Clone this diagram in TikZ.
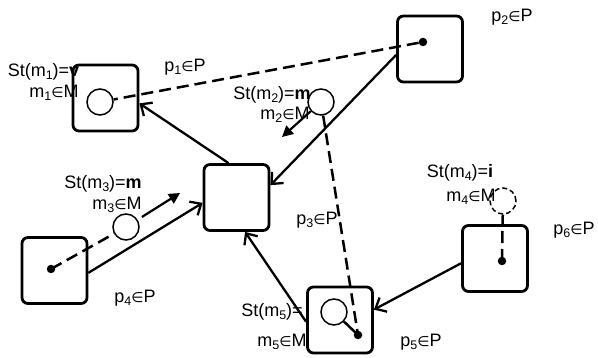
\documentclass[tikz,border=0pt]{standalone}
\usepackage{fontspec}
\setmainfont{Liberation Sans}
\newfontfamily\symf{DejaVu Sans}
\usetikzlibrary{arrows.meta}
\newcommand\sbs[1]{\raisebox{-0.35ex}{\fontsize{12.5}{12.5}\selectfont #1}}
\newcommand\inn{{\symf\fontsize{14}{14}\selectfont ∈}}
\begin{document}
\begin{tikzpicture}[x=1pt,y=-1pt,
  place/.style={draw, line width=2.8pt, rounded corners=6pt, minimum width=65pt, minimum height=66pt, inner sep=0pt},
  token/.style={draw, circle, line width=1.5pt, minimum size=26pt, inner sep=0pt},
  dot/.style={circle, fill=black, minimum size=8.5pt, inner sep=0pt},
  flow/.style={line width=2.3pt, -{Straight Barb[length=9pt,width=16pt]}},
  link/.style={line width=2.5pt, dash pattern=on 12pt off 6pt},
  move/.style={line width=2.2pt, -{Triangle[length=11pt,width=11pt]}},
  lbl/.style={font=\fontsize{18}{21}\selectfont, inner sep=0pt}]
\useasboundingbox (0,0) rectangle (598,358);

% places
\node[place] (P1) at (105.5,98) {};
\node[place] (P2) at (430,49) {};
\node[place] (C) at (236.5,197.5) {};
\node[place] (P4) at (54.5,270.5) {};
\node[place] (P5) at (340,320) {};
\node[place] (P6) at (495,258.5) {};

% tokens
\node[token] (m1) at (100,102) {};
\node[token] (m2) at (321,102) {};
\node[token] (m3) at (126,227) {};
\node[token, dash pattern=on 5pt off 3pt] (m4) at (503,201) {};
\node[token] (m5) at (334,312) {};

% dots
\node[dot] (d2) at (423,42) {};
\node[dot] (d4) at (51,269) {};
\node[dot] (d5) at (358,335) {};
\node[dot] (d6) at (502,261) {};

% links
\draw[link] (d2) -- (m1);
\draw[link] (m2) -- (d5.center);
\draw[link] (d4.center) -- (m3);
\draw[link] (d6.center) -- (m4);
\draw[line width=2.5pt] (m5) -- (d5.center);

% flows
\draw[flow] (P2.190) -- (C.20);
\draw[flow] (C.103) -- (P1.351);
\draw[flow] (P4.356) -- (C.189);
\draw[flow] (P5.183) -- (C.284);
\draw[flow] (P6.188) -- (P5.17);

% moves
\coordinate (a2) at (282,137);
\coordinate (a3) at (180,193);
\draw[move] (m2) -- (a2);
\draw[move, shorten <=5pt] (m3) -- (a3);

% labels
\node[lbl] (s1) at (43.5,72) {St(m\sbs{1})=\textbf{v}};
\node[lbl] (i1) at (54,93) {m\sbs{1}\inn M};
\node[lbl] (l1) at (185,67) {p\sbs{1}\inn P};
\node[lbl] (l2) at (512,17) {p\sbs{2}\inn P};
\node[lbl] (s2) at (272,95) {St(m\sbs{2})=\textbf{m}};
\node[lbl] (i2) at (285,115) {m\sbs{2}\inn M};
\node[lbl] (s3) at (103,184) {St(m\sbs{3})=\textbf{m}};
\node[lbl] (i3) at (117,205) {m\sbs{3}\inn M};
\node[lbl] (l3) at (317,220) {p\sbs{3}\inn P};
\node[lbl] (s4) at (460,173) {St(m\sbs{4})=\textbf{i}};
\node[lbl] (i4) at (471,197) {m\sbs{4}\inn M};
\node[lbl] (l6) at (574,230) {p\sbs{6}\inn P};
\node[lbl] (s5) at (272,312) {St(m\sbs{5})=};
\node[lbl] (i5) at (282,342) {m\sbs{5}\inn M};
\node[lbl] (l5) at (421,342) {p\sbs{5}\inn P};
\node[lbl] (l4) at (135,298) {p\sbs{4}\inn P};
\end{tikzpicture}
\end{document}
